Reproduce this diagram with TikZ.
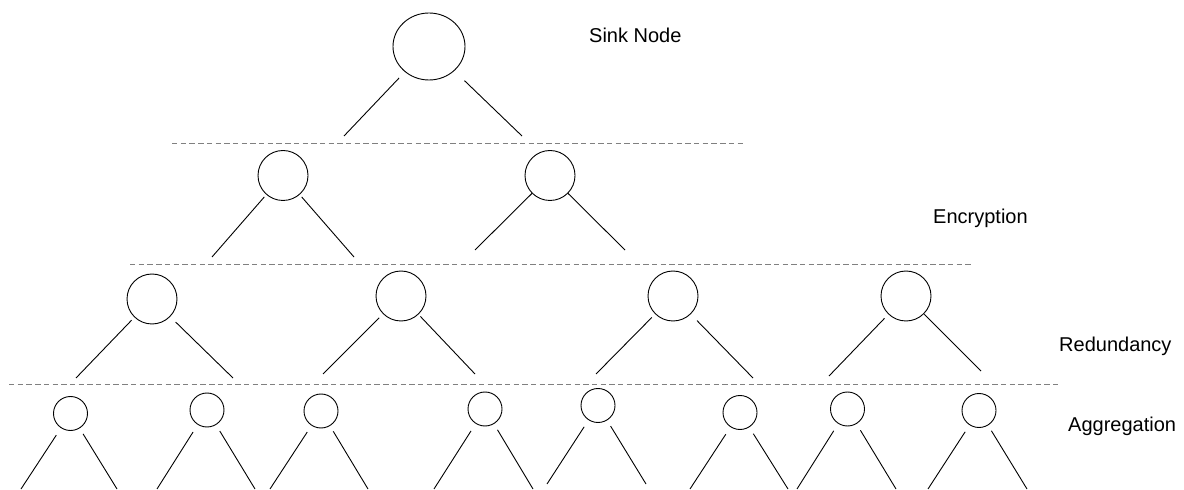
\documentclass[tikz,border=0pt]{standalone}
\usepackage{fontspec}
\setmainfont{Liberation Sans}
\usetikzlibrary{shapes.geometric}
\begin{document}
\begin{tikzpicture}[x=1bp,y=-1bp,
  sinkbox/.style={ellipse,draw,line width=0.9bp,inner sep=0pt,minimum width=72bp,minimum height=67bp},
  midnode/.style={circle,draw,line width=0.9bp,inner sep=0pt,minimum size=50bp},
  leafnode/.style={circle,draw,line width=0.9bp,inner sep=0pt,minimum size=34bp},
  link/.style={draw,line width=0.9bp},
  tierline/.style={draw=black!50,line width=0.9bp,dash pattern=on 5.4bp off 3.3bp},
  tier/.style={anchor=base west,inner sep=0pt,font=\fontsize{20bp}{24bp}\selectfont}]
\useasboundingbox (0,0) rectangle (1184,490);

% tier separators
\coordinate (t1a) at (172,143); \coordinate (t1b) at (743,143);
\coordinate (t2a) at (130,264); \coordinate (t2b) at (972,264);
\coordinate (t3a) at (9,384);   \coordinate (t3b) at (1058,384);
\draw[tierline] (t1a) -- (t1b);
\draw[tierline] (t2a) -- (t2b);
\draw[tierline] (t3a) -- (t3b);

% tier captions
\node[tier] (capS) at (589,43)  {Sink Node};
\node[tier] (capE) at (933,224) {Encryption};
\node[tier] (capR) at (1059,352) {Redundancy};
\node[tier] (capA) at (1068,431) {Aggregation};

% sink
\node[sinkbox] (S) at (429,46.5) {};
\coordinate (sL) at (344,136); \coordinate (sR) at (522,136);
\draw[link,shorten <=8.4bp] (S) -- (sL);
\draw[link,shorten <=14bp] (S) -- (sR);

% encryption tier
\node[midnode] (E1) at (283,175.5) {};
\node[midnode] (E2) at (550,175.5) {};
\coordinate (e1L) at (212,257); \coordinate (e1R) at (354,257);
\coordinate (e2L) at (475,250); \coordinate (e2R) at (625,250);
\draw[link,shorten <=3bp] (E1) -- (e1L);
\draw[link,shorten <=3bp] (E1) -- (e1R);
\draw[link] (E2) -- (e2L);
\draw[link] (E2) -- (e2R);

% redundancy tier
\node[midnode] (R1) at (152,299) {};
\node[midnode] (R2) at (401,296) {};
\node[midnode] (R3) at (673,296) {};
\node[midnode] (R4) at (906,296) {};
\coordinate (r1L) at (76,378);  \coordinate (r1R) at (233,378);
\coordinate (r2L) at (323,374); \coordinate (r2R) at (475,374);
\coordinate (r3L) at (596,374); \coordinate (r3R) at (753,378);
\coordinate (r4L) at (829,376); \coordinate (r4R) at (981,371);
\draw[link,shorten <=4bp]   (R1) -- (r1L);
\draw[link,shorten <=7.6bp] (R1) -- (r1R);
\draw[link,shorten <=5.4bp] (R2) -- (r2L);
\draw[link,shorten <=2.8bp] (R2) -- (r2R);
\draw[link,shorten <=4.7bp] (R3) -- (r3L);
\draw[link,shorten <=9bp]   (R3) -- (r3R);
\draw[link,shorten <=5.5bp] (R4) -- (r4L);
\draw[link,shorten <=0.5bp] (R4) -- (r4R);

% aggregation tier
\node[leafnode] (A1) at (70.5,413.5) {};
\node[leafnode] (A2) at (207,410) {};
\node[leafnode] (A3) at (321,411) {};
\node[leafnode] (A4) at (485,409) {};
\node[leafnode] (A5) at (598,405.5) {};
\node[leafnode] (A6) at (740,412.5) {};
\node[leafnode] (A7) at (847.5,409) {};
\node[leafnode] (A8) at (979,410.5) {};
\coordinate (a1L) at (21,489);  \coordinate (a1R) at (117,489);
\coordinate (a2L) at (157,489); \coordinate (a2R) at (255,489);
\coordinate (a3L) at (270,489); \coordinate (a3R) at (368,489);
\coordinate (a4L) at (434,489); \coordinate (a4R) at (533,489);
\coordinate (a5L) at (547,484); \coordinate (a5R) at (646,484);
\coordinate (a6L) at (690,489); \coordinate (a6R) at (788,489);
\coordinate (a7L) at (797,489); \coordinate (a7R) at (896,489);
\coordinate (a8L) at (928,489); \coordinate (a8R) at (1027,489);
\draw[link,shorten <=8.4bp] (A1) -- (a1L);
\draw[link,shorten <=6.5bp] (A1) -- (a1R);
\draw[link,shorten <=8.6bp] (A2) -- (a2L);
\draw[link,shorten <=7.2bp] (A2) -- (a2R);
\draw[link,shorten <=7.7bp] (A3) -- (a3L);
\draw[link,shorten <=6.3bp] (A3) -- (a3R);
\draw[link,shorten <=8.6bp] (A4) -- (a4L);
\draw[link,shorten <=6.8bp] (A4) -- (a4R);
\draw[link,shorten <=8bp]   (A5) -- (a5L);
\draw[link,shorten <=6.7bp] (A5) -- (a5R);
\draw[link,shorten <=8.5bp] (A6) -- (a6L);
\draw[link,shorten <=7.6bp] (A6) -- (a6R);
\draw[link,shorten <=8.3bp] (A7) -- (a7L);
\draw[link,shorten <=7.4bp] (A7) -- (a7R);
\draw[link,shorten <=8bp]   (A8) -- (a8L);
\draw[link,shorten <=6.3bp] (A8) -- (a8R);
\end{tikzpicture}
\end{document}
